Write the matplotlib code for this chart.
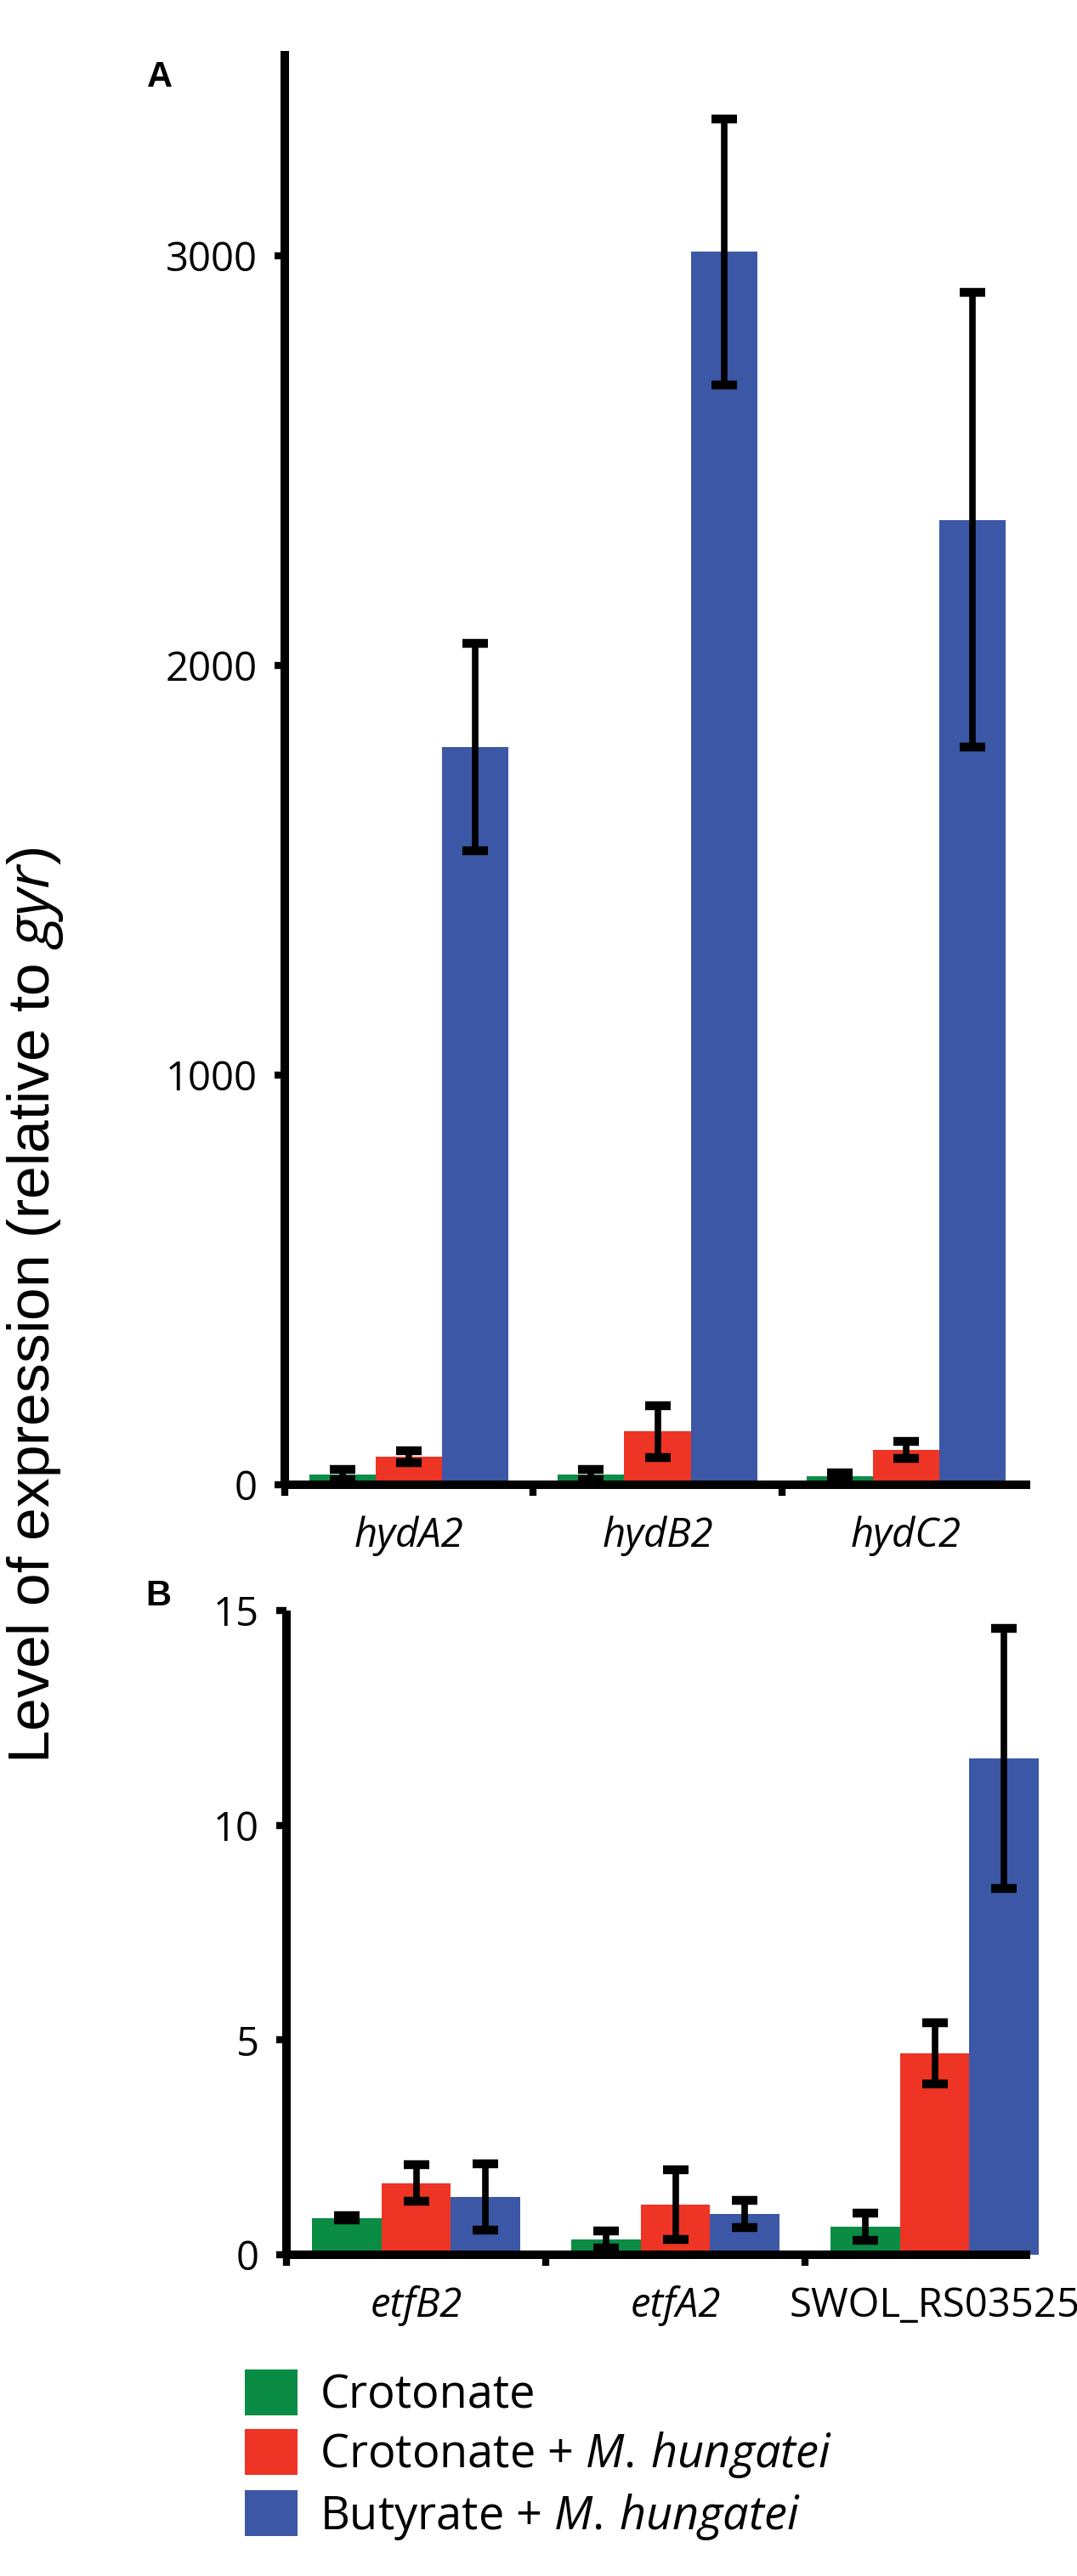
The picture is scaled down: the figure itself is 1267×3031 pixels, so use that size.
import matplotlib
matplotlib.use("Agg")
import matplotlib.pyplot as plt
import numpy as np

# ---- data ----
conditions = ["Crotonate", "Crotonate + M. hungatei", "Butyrate + M. hungatei"]
legend_labels = ["Crotonate",
                 r"Crotonate + $\mathit{M.\,hungatei}$",
                 r"Butyrate + $\mathit{M.\,hungatei}$"]
colors = ["#0A8C45", "#EE3424", "#3C57A6"]

genes_a = ["hydA2", "hydB2", "hydC2"]
vals_a = {
    "Crotonate": [25, 25, 20],
    "Crotonate + M. hungatei": [68, 130, 85],
    "Butyrate + M. hungatei": [1800, 3010, 2355],
}
err_a = {
    "Crotonate": [12, 12, 10],
    "Crotonate + M. hungatei": [14, 63, 20],
    "Butyrate + M. hungatei": [253, 325, 555],
}
yticks_a = [0, 1000, 2000, 3000]

genes_b = ["etfB2", "etfA2", "SWOL_RS03525"]
italic_b = [True, True, False]
vals_b = {
    "Crotonate": [0.86, 0.36, 0.65],
    "Crotonate + M. hungatei": [1.67, 1.17, 4.69],
    "Butyrate + M. hungatei": [1.34, 0.95, 11.55],
}
err_b = {
    "Crotonate": [0.05, 0.20, 0.32],
    "Crotonate + M. hungatei": [0.43, 0.81, 0.71],
    "Butyrate + M. hungatei": [0.77, 0.31, 3.03],
}
yticks_b = [0, 5, 10, 15]

# ---- style ----
plt.rcParams["font.family"] = ["Open Sans", "DejaVu Sans"]
plt.rcParams["mathtext.fontset"] = "custom"
plt.rcParams["mathtext.it"] = "Open Sans:italic"
plt.rcParams["mathtext.rm"] = "Open Sans"

W, H = 1267, 3031
fig = plt.figure(figsize=(W / 100, H / 100), dpi=100)

def px_axes(l, r, top, bottom):
    return fig.add_axes([l / W, 1 - bottom / H, (r - l) / W, (bottom - top) / H])

bw = 0.267
spine_lw = 7.2
tick_fs = 34

def draw(ax, genes, vals, errs, ylim, yticks, italics, xend):
    x = np.arange(1, len(genes) + 1)
    handles = []
    for i, c in enumerate(conditions):
        xs = x + (i - 1) * bw
        h = ax.bar(xs, vals[c], width=bw, color=colors[i], zorder=2)
        ax.errorbar(xs, vals[c], yerr=errs[c], fmt="none", ecolor="black",
                    elinewidth=5.5, capsize=10.5, capthick=7.5, zorder=3)
        handles.append(h)
    ax.set_xlim(0.5, 3.5)
    ax.set_ylim(*ylim)
    for s in ["top", "right"]:
        ax.spines[s].set_visible(False)
    for s in ["left", "bottom"]:
        ax.spines[s].set_linewidth(spine_lw)
        ax.spines[s].set_capstyle("butt")
    ax.spines["bottom"].set_bounds(0.5, xend)
    ax.set_yticks(yticks)
    ax.set_yticklabels([str(t) for t in yticks])
    ax.set_xticks([0.5, 1.5, 2.5])
    ax.set_xticklabels([])
    ax.tick_params(axis="both", width=6, length=9, labelsize=tick_fs, color="black")
    ax.tick_params(axis="y", pad=14)
    ax.set_xticks(x, minor=True)
    ax.set_xticklabels(genes, minor=True)
    ax.tick_params(axis="x", which="minor", length=0, pad=26, labelsize=tick_fs)
    for lab, it in zip(ax.get_xticklabels(minor=True), italics):
        if it:
            lab.set_fontstyle("italic")
    ax.patch.set_visible(False)
    return handles

axA = px_axes(335, 1212, 60, 1747)
handles = draw(axA, genes_a, vals_a, err_a, (0, 3500), yticks_a, [True] * 3, 3.5)

axB = px_axes(337, 1252, 1895, 2653)
draw(axB, genes_b, vals_b, err_b, (0, 15), yticks_b, italic_b, 3.37)

fig.text(188 / W, 1 - 91 / H, "A", fontsize=30, fontweight="bold",
         family="Liberation Sans", ha="center", va="center")
fig.text(186 / W, 1 - 1878 / H, "B", fontsize=30, fontweight="bold",
         family="Liberation Sans", ha="center", va="center")

fig.text(42 / W, 1 - 1536 / H, r"Level of expression (relative to $\mathit{gyr}$)",
         rotation=90, fontsize=50, family="Liberation Sans",
         ha="center", va="center")

leg = fig.legend(handles, legend_labels, loc="upper left",
                 bbox_to_anchor=(288 / W, 1 - 2788 / H), frameon=False,
                 fontsize=39, handlelength=1.15, handleheight=1.15,
                 labelspacing=0.22, handletextpad=0.48, borderpad=0,
                 borderaxespad=0)

fig.savefig("out.png", dpi=100)
